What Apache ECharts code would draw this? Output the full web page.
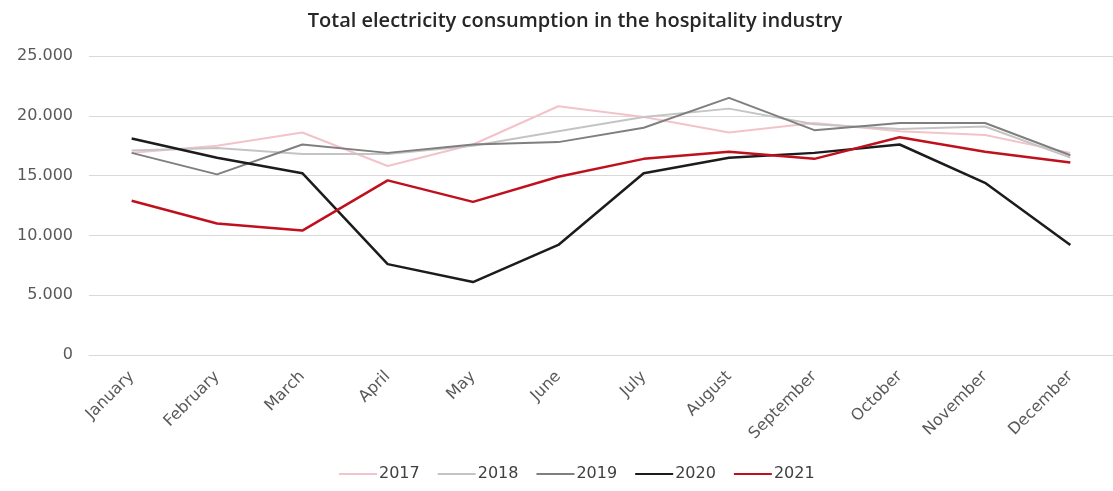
<!DOCTYPE html>
<html>
<head>
<meta charset="utf-8">
<script src="https://cdn.jsdelivr.net/npm/echarts@6/dist/echarts.min.js"></script>
<style>
  html, body { margin: 0; padding: 0; background: #fff; }
  #chart { width: 1113px; height: 491px; }
</style>
</head>
<body>
<div id="chart"></div>
<script>
// Monthly electricity consumption, hospitality industry
const months = ['January', 'February', 'March', 'April', 'May', 'June',
                'July', 'August', 'September', 'October', 'November', 'December'];
const years = ['2017', '2018', '2019', '2020', '2021'];

const y2017 = [16900, 17500, 18600, 15800, 17600, 20800, 19900, 18600, 19400, 18700, 18400, 16900];
const y2018 = [17100, 17300, 16800, 16800, 17500, 18700, 19900, 20600, 19300, 18900, 19100, 16500];
const y2019 = [16900, 15100, 17600, 16900, 17600, 17800, 19000, 21500, 18800, 19400, 19400, 16700];
const y2020 = [18100, 16500, 15200, 7600, 6100, 9200, 15200, 16500, 16900, 17600, 14400, 9200];
const y2021 = [12900, 11000, 10400, 14600, 12800, 14900, 16400, 17000, 16400, 18200, 17000, 16100];

const yTicks = [0, 5000, 10000, 15000, 20000, 25000];

const seriesValues = [y2017, y2018, y2019, y2020, y2021];
const colors = ['#f2c3cb', '#c4c4c4', '#7f7f7f', '#1c1c1c', '#c0101e'];
const widths = [2, 2, 2, 2.5, 2.5];

const labelFont = '"DejaVu Sans", sans-serif';
const titleFont = '"Open Sans", sans-serif';

function thousands(v) {
  return String(v).replace(/\B(?=(\d{3})+(?!\d))/g, '.');
}

const chart = echarts.init(document.getElementById('chart'), null, { renderer: 'canvas' });
chart.setOption({
  animation: false,
  backgroundColor: '#ffffff',
  color: colors,
  title: {
    text: 'Total electricity consumption in the hospitality industry',
    left: 570,
    textAlign: 'center',
    top: 6,
    textStyle: { fontFamily: titleFont, fontSize: 20, fontWeight: 600, color: '#262626' }
  },
  legend: {
    bottom: 4,
    left: 334,
    icon: 'rect',
    itemWidth: 38,
    itemHeight: 2,
    itemGap: 18,
    data: years,
    textStyle: { fontFamily: labelFont, fontSize: 16, color: '#404040', padding: [0, 0, 0, -3] }
  },
  grid: { left: 89, top: 56, width: 1029, height: 299, containLabel: false },
  xAxis: {
    type: 'category',
    data: months,
    boundaryGap: true,
    axisLine: { show: true, lineStyle: { color: '#d9d9d9', width: 1 } },
    axisTick: { show: false },
    axisLabel: {
      rotate: 45,
      interval: 0,
      margin: 19,
      fontFamily: labelFont,
      fontSize: 16,
      color: '#595959'
    }
  },
  yAxis: {
    type: 'value',
    min: yTicks[0],
    max: yTicks[yTicks.length - 1],
    interval: 5000,
    axisLine: { show: false },
    axisTick: { show: false },
    splitLine: { lineStyle: { color: '#d9d9d9', width: 1 } },
    axisLabel: {
      margin: 16,
      fontFamily: labelFont,
      fontSize: 16,
      color: '#595959',
      formatter: thousands
    }
  },
  series: years.map((name, i) => ({
    name: name,
    type: 'line',
    data: seriesValues[i],
    symbol: 'none',
    smooth: false,
    lineStyle: { color: colors[i], width: widths[i] },
    itemStyle: { color: colors[i] },
    z: 2 + i
  }))
});
</script>
</body>
</html>
